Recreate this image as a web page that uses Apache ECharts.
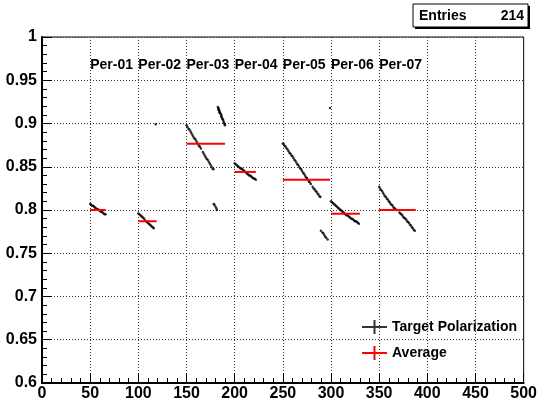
<!DOCTYPE html>
<html><head><meta charset="utf-8">
<script src="https://cdn.jsdelivr.net/npm/echarts@6/dist/echarts.min.js"></script>
<style>html,body{margin:0;padding:0;background:#fff}#c{width:540px;height:402px}</style>
</head><body><div id="c"></div>
<script>
// ---- data ----
const xTicks = [0,50,100,150,200,250,300,350,400,450,500];
const yTicks = [0.6,0.65,0.7,0.75,0.8,0.85,0.9,0.95,1];
const periodNames = ['Per-01','Per-02','Per-03','Per-04','Per-05','Per-06','Per-07'];
const periodStart = [50,100,150,200,250,300,350];
const periodLabelY = 0.968;

const p1x = [50,51,52,53,54,55,56,57,58,59,60,61,62,63,64,65,66];
const p1y = [0.807,0.806,0.805,0.805,0.804,0.803,0.802,0.801,0.801,0.800,0.799,0.798,0.798,0.797,0.796,0.795,0.795];
const p2x = [100,101,102,103,104,105,106,107,108,109,110,111,112,113,114,115,116,118];
const p2y = [0.796,0.795,0.794,0.793,0.792,0.791,0.790,0.788,0.787,0.786,0.785,0.784,0.783,0.782,0.781,0.780,0.779,0.899];
const p3x = [150,151,152,153,154,155,156,157,158,159,160,161,162,163,164,165,167,168,169,170,171,172,173,174,175,176,177,178,
             182.5,183,183,183.5,184,184,184.5,185,185.5,186,186,186.5,187,187.5,188,188.5,189,189.5,190,
             178.2,179,180,181,181.5];
const p3y = [0.898,0.896,0.894,0.893,0.891,0.889,0.887,0.885,0.883,0.882,0.880,0.878,0.876,0.874,0.873,0.871,0.867,0.865,0.863,0.861,0.859,0.858,0.856,0.854,0.852,0.850,0.848,0.847,
             0.919,0.918,0.916,0.917,0.915,0.913,0.914,0.912,0.911,0.910,0.908,0.908,0.906,0.905,0.904,0.902,0.901,0.899,0.898,
             0.807,0.806,0.804,0.802,0.800];
const p4x = [200,201,202,203,204,205,206,207,208,209,210,211,212,213,214,215,216,217,218,219,220,221,222];
const p4y = [0.854,0.853,0.852,0.851,0.850,0.849,0.848,0.848,0.847,0.846,0.845,0.844,0.843,0.842,0.841,0.840,0.840,0.839,0.838,0.837,0.836,0.836,0.835];
const p5x = [250,251,252,253,254,255,256,257,258,259,260,261,262,263,264,265,266,267,268,269,270,271,272,273,274,275,276,277,278,279,281,282,283,284,285,286,287,288,289,
             289.5,291,292,293,294,295,296.5,299];
const p5y = [0.877,0.876,0.874,0.873,0.871,0.870,0.868,0.866,0.865,0.863,0.862,0.860,0.858,0.857,0.855,0.853,0.852,0.850,0.848,0.847,0.845,0.843,0.842,0.840,0.838,0.837,0.835,0.833,0.832,0.830,0.827,0.825,0.824,0.822,0.821,0.819,0.818,0.816,0.815,
             0.776,0.774,0.773,0.771,0.769,0.768,0.766,0.918];
const p6x = [300,301,302,303,304,305,306,307,308,309,310,311,312,313,314,315,316,317,318,319,320,321,322,323,324,325,326,327,328,329];
const p6y = [0.810,0.809,0.808,0.807,0.806,0.805,0.804,0.803,0.802,0.801,0.800,0.799,0.798,0.797,0.796,0.795,0.794,0.794,0.793,0.792,0.791,0.790,0.790,0.789,0.788,0.787,0.787,0.786,0.785,0.784];
const p7x = [350,351,352,353,354,355,356,357,358,359,360,361,362,363,364,365,366,367,368,371,372,373,374,375,376,377,378,379,380,381,382,383,384,385,386,387];
const p7y = [0.827,0.825,0.823,0.822,0.820,0.818,0.816,0.815,0.813,0.812,0.810,0.809,0.807,0.806,0.805,0.803,0.802,0.801,0.800,0.797,0.796,0.795,0.794,0.792,0.791,0.790,0.789,0.787,0.786,0.785,0.783,0.782,0.780,0.779,0.777,0.776];

const avgFrom = [50,100,150,200,250,300,350];
const avgTo   = [66,119,190,222,299,330,388];
const avgVal  = [0.800,0.787,0.8766,0.844,0.835,0.7957,0.800];

const entriesLabel = 'Entries';
const entriesValue = '214';

// ---- build ----
const allX = [p1x,p2x,p3x,p4x,p5x,p6x,p7x];
const allY = [p1y,p2y,p3y,p4y,p5y,p6y,p7y];
const pts = [];
allX.forEach((xs,i)=>xs.forEach((x,j)=>pts.push([x, allY[i][j]])));

const FONT = 'Liberation Sans, Arial, Helvetica, sans-serif';
const series = [{
  name:'Target Polarization', type:'scatter', data:pts, symbol:'circle', symbolSize:2.5,
  itemStyle:{color:'#000'}, z:3, silent:true
}];
avgVal.forEach((v,i)=>{
  series.push({name:'Average', type:'line', data:[[avgFrom[i],v],[avgTo[i],v]],
    symbol:'none', lineStyle:{color:'#ff0000', width:2}, itemStyle:{color:'#ff0000'}, z:4, silent:true});
});
series.push({type:'scatter', data:periodStart.map((x,i)=>({value:[x,periodLabelY], name:periodNames[i]})),
  symbolSize:0, silent:true, z:5,
  label:{show:true, position:'right', distance:0, formatter:p=>p.name, color:'#000', opacity:1,
    textBorderWidth:0, fontFamily:FONT, fontWeight:'bold', fontSize:14}});

const chart = echarts.init(document.getElementById('c'), null, {renderer:'canvas'});
const cross = 'path://M0,6H11.5V0H13.5V6H25V8H13.5V14H11.5V8H0Z';
chart.setOption({
  animation:false,
  grid:{left:42, right:13, top:37, bottom:18, show:true, borderColor:'#000', borderWidth:1, backgroundColor:'transparent'},
  xAxis:{type:'value', min:0, max:500, interval:50,
    axisLine:{show:true, onZero:false, lineStyle:{color:'#000', width:2}},
    axisTick:{show:true, inside:true, length:10, lineStyle:{color:'#000'}},
    minorTick:{show:true, splitNumber:5, length:5, lineStyle:{color:'#000'}},
    splitLine:{show:true, lineStyle:{color:'#333', type:[1,2], width:1}},
    axisLabel:{color:'#000', fontFamily:FONT, fontWeight:'bold', fontSize:16, margin:3, showMinLabel:true, showMaxLabel:true,
      formatter:v=>String(v)}},
  yAxis:{type:'value', min:0.6, max:1, interval:0.05,
    axisLine:{show:true, onZero:false, lineStyle:{color:'#000', width:2}},
    axisTick:{show:true, inside:true, length:10, lineStyle:{color:'#000'}},
    minorTick:{show:true, splitNumber:5, length:5, lineStyle:{color:'#000'}},
    splitLine:{show:true, lineStyle:{color:'#333', type:[1,2], width:1}},
    axisLabel:{color:'#000', fontFamily:FONT, fontWeight:'bold', fontSize:16, margin:5, showMinLabel:true, showMaxLabel:true,
      formatter:v=>String(+v.toFixed(2))}},
  legend:{orient:'vertical', left:357, top:315, itemWidth:25, itemHeight:14, itemGap:12,
    textStyle:{color:'#000', fontFamily:FONT, fontWeight:'bold', fontSize:14},
    data:[{name:'Target Polarization', icon:cross, itemStyle:{color:'#000'}},
          {name:'Average', icon:cross, itemStyle:{color:'#ff0000'}}],
    selectedMode:false},
  graphic:[
    {type:'rect', shape:{x:415, y:6, width:115, height:23}, style:{fill:'#000'}, z:10},
    {type:'rect', shape:{x:413, y:4, width:115, height:23}, style:{fill:'#fff', stroke:'#000', lineWidth:1}, z:11},
    {type:'text', x:419, y:16, style:{text:entriesLabel, fill:'#000', font:'bold 14px '+FONT, textVerticalAlign:'middle', textAlign:'left'}, z:12},
    {type:'text', x:524, y:16, style:{text:entriesValue, fill:'#000', font:'bold 14px '+FONT, textVerticalAlign:'middle', textAlign:'right'}, z:12}
  ],
  series:series
});
</script></body></html>
